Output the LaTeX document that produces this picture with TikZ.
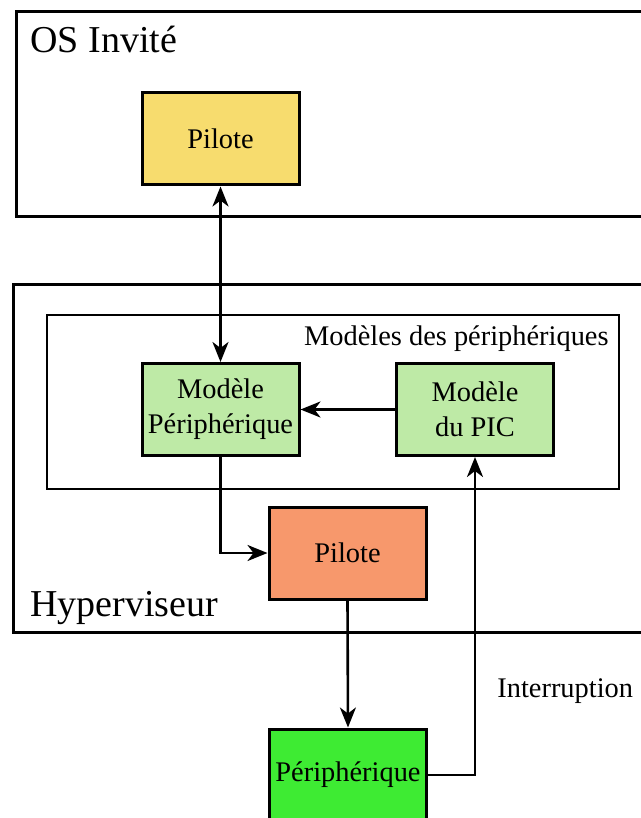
\documentclass[tikz,border=0pt]{standalone}
\usepackage{fontspec}
\setmainfont{Liberation Serif}
\usetikzlibrary{arrows.meta, positioning}
\definecolor{guestyellow}{RGB}{247,220,110}
\definecolor{modelgreen}{RGB}{190,234,166}
\definecolor{hvorange}{RGB}{247,152,108}
\definecolor{devgreen}{RGB}{62,235,51}
\tikzset{
  blk/.style={rectangle, draw=black, line width=1.5pt, minimum width=78.5pt, minimum height=46pt,
    align=center, inner sep=2pt, font=\fontsize{14.2}{17.5}\selectfont},
  blk/guest/.style={blk, fill=guestyellow},
  blk/model/.style={blk, fill=modelgreen},
  blk/hv/.style={blk, fill=hvorange},
  blk/dev/.style={blk, fill=devgreen},
  zone/.style={draw=black, line width=1.5pt},
  zonelbl/.style={font=\fontsize{19}{22}\selectfont, inner sep=0pt, anchor=base west},
  tip/.tip={Stealth[length=10pt, width=8pt, inset=3pt]},
  ar/.style={-tip, draw=black, line width=1.3pt},
  lb/.style={font=\fontsize{14.2}{17}\selectfont, inner sep=0pt},
}
\begin{document}
\begin{tikzpicture}[x=0.5pt, y=-0.5pt]
  \useasboundingbox (0,0) rectangle (641,818);
  % frames
  \draw[zone] (16,12) rectangle (670,217);
  \draw[zone] (13,284) rectangle (670,632);
  \draw[zone, line width=1.4pt] (47,315) rectangle (619,489);
  \node[zonelbl] (osinv) at (30,53) {OS Invité};
  \node[zonelbl] (hyperv) at (30,616) {Hyperviseur};
  \node[lb, anchor=base east] (modlbl) at (609,345) {Modèles des périphériques};
  % blocks
  \node[blk/guest] (pilguest) at (220.5,139) {Pilote};
  \node[blk/model] (modper) at (220.5,409.5) {Modèle\\Périphérique};
  \node[blk/model] (modpic) at (475,409.5) {Modèle\\du PIC};
  \node[blk/hv] (pilhv) at (347.5,553) {Pilote};
  \node[blk/dev] (periph) at (348,775) {Périphérique};
  % connectors
  \draw[ar, tip-tip] (pilguest.south) -- (modper.north);
  \draw[ar] (modpic.west) -- (modper.east);
  \draw[ar] (modper.south) |- (pilhv.west);
  \draw[ar] (pilhv.south) -- (periph.north);
  \draw[ar] (periph.east) -| (modpic.south);
  \node[lb, anchor=base west] (intlbl) at (497,697) {Interruption};
\end{tikzpicture}
\end{document}
